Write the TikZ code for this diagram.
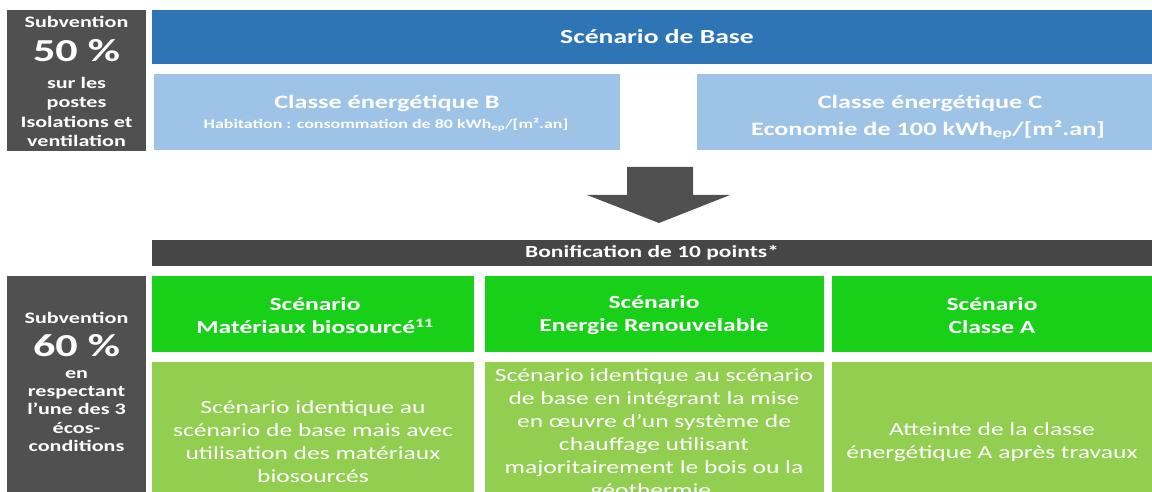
\documentclass[tikz,border=0pt]{standalone}
\usepackage{fontspec}
\setmainfont{Carlito}[FakeStretch=1.38]
\definecolor{greyA}{RGB}{80,80,80}
\definecolor{greyB}{RGB}{70,70,70}
\definecolor{blueA}{RGB}{46,117,182}
\definecolor{blueL}{RGB}{157,195,230}
\definecolor{greenA}{RGB}{24,208,24}
\definecolor{greenL}{RGB}{146,206,80}
\tikzset{
  panel/.style={rectangle, anchor=north west, inner sep=0pt, outer sep=0pt, draw=none},
  txt/.style={text=white, align=center, inner sep=0pt},
  gtitle/.style={txt, font=\bfseries\fontsize{16}{19}\selectfont},
  gbig/.style={txt, font=\bfseries\fontsize{32}{36}\selectfont},
  gsmall/.style={txt, font=\bfseries\fontsize{16}{19}\selectfont},
  hdr/.style={txt, font=\bfseries\fontsize{18.5}{23}\selectfont},
  body/.style={txt, font=\fontsize{18.5}{23}\selectfont},
}
\begin{document}
\begin{tikzpicture}[x=1pt,y=-1pt]
\useasboundingbox (0,0) rectangle (1152,492);
\clip (0,0) rectangle (1152,492);
\fill[white] (0,0) rectangle (1152,492);

% top left grey box
\node[panel, fill=greyA, minimum width=139pt, minimum height=141pt] (g1) at (7,10) {};
\node[gtitle] (g1a) at (76.5,22) {Subvention};
\node[gbig] (g1b) at (76.5,51) {50 \%};
\node[gsmall, font=\bfseries\fontsize{16}{19.5}\selectfont] (g1c) at (76.5,112) {sur les\\postes\\Isolations et\\ventilation};

% scenario de base
\node[panel, fill=blueA, minimum width=1000pt, minimum height=54pt] (base) at (152,10) {};
\node[txt, font=\bfseries\fontsize{20}{24}\selectfont] (baset) at (657,37) {Scénario de Base};

% light blue boxes
\node[panel, fill=blueL, minimum width=466pt, minimum height=76pt] (lb1) at (154,74) {};
\node[txt, font=\bfseries\fontsize{19}{22}\selectfont] (lb1a) at (387,103) {Classe énergétique B};
\node[txt, font=\bfseries\fontsize{13}{16}\selectfont] (lb1b) at (386,125) {Habitation : consommation de 80 kWh\textsubscript{ep}/[m².an]};

\node[panel, fill=blueL, minimum width=460pt, minimum height=76pt] (lb2) at (697,74) {};
\node[txt, font=\bfseries\fontsize{19}{22}\selectfont] (lb2a) at (930,103) {Classe énergétique C};
\node[txt, font=\bfseries\fontsize{19}{22}\selectfont] (lb2b) at (928,130) {Economie de 100 kWh\textsubscript{ep}/[m².an]};

% big arrow
\fill[greyA] (627,167) -- (693,167) -- (693,195) -- (730,195) -- (659,223) -- (587,195) -- (627,195) -- cycle;

% bonification bar
\node[panel, fill=greyB, minimum width=1000pt, minimum height=26pt] (bon) at (152,240) {};
\node[txt, font=\bfseries\fontsize{17}{20}\selectfont] (bont) at (652,253) {Bonification de 10 points*};

% bottom left grey box
\node[panel, fill=greyA, minimum width=139pt, minimum height=230pt] (g2) at (7,276) {};
\node[gtitle] (g2a) at (76.5,318) {Subvention};
\node[gbig] (g2b) at (76.5,346) {60 \%};
\node[gsmall, font=\bfseries\fontsize{16}{18.3}\selectfont] (g2c) at (76.5,411) {en\\respectant\\l’une des 3\\écos-\\conditions};

% green headers
\node[panel, fill=greenA, minimum width=322pt, minimum height=76pt] (h1) at (152,276) {};
\node[panel, fill=greenA, minimum width=339pt, minimum height=76pt] (h2) at (485,276) {};
\node[panel, fill=greenA, minimum width=320pt, minimum height=76pt] (h3) at (832,276) {};
\node[hdr] (h1t) at (315,315.5) {Scénario\\Matériaux biosourcé\textsuperscript{11}};
\node[hdr] (h2t) at (654,315.5) {Scénario\\Energie Renouvelable};
\node[hdr] (h3t) at (992,315.5) {Scénario\\Classe A};

% light green bodies
\node[panel, fill=greenL, minimum width=322pt, minimum height=160pt] (b1) at (152,362) {};
\node[panel, fill=greenL, minimum width=339pt, minimum height=160pt] (b2) at (485,362) {};
\node[panel, fill=greenL, minimum width=320pt, minimum height=160pt] (b3) at (832,362) {};
\node[body] (b1t) at (313,442) {Scénario identique au\\scénario de base mais avec\\utilisation des matériaux\\biosourcés};
\node[body] (b2t) at (654,434) {Scénario identique au scénario\\de base en intégrant la mise\\en œuvre d’un système de\\chauffage utilisant\\majoritairement le bois ou la\\géothermie.};
\node[body] (b3t) at (992,442) {Atteinte de la classe\\énergétique A après travaux};
\end{tikzpicture}
\end{document}
